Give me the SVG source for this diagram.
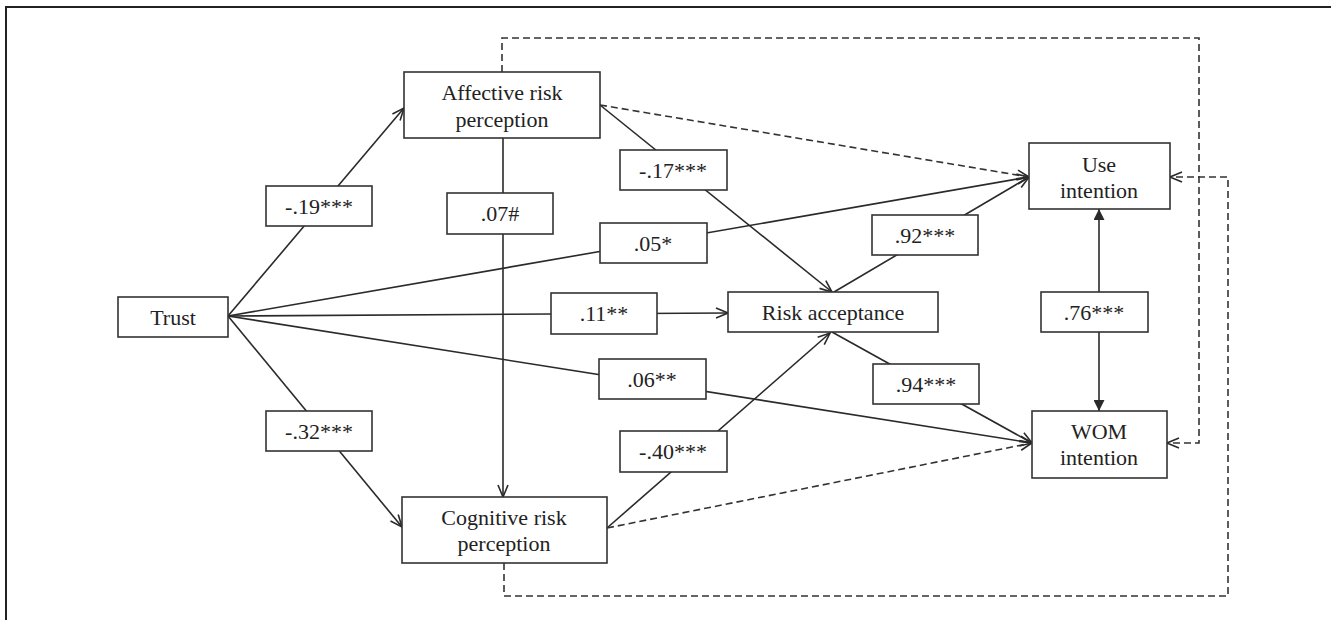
<svg xmlns="http://www.w3.org/2000/svg" width="1331" height="620" viewBox="0 0 1331 620">
<style>
.frame{fill:none;stroke:#222;stroke-width:2}
.box{fill:#fff;stroke:#333;stroke-width:1.6}
.ln{fill:none;stroke:#2a2a2a;stroke-width:1.6}
.ln.arr{marker-end:url(#open)}
.dash{fill:none;stroke:#333;stroke-width:1.6;stroke-dasharray:7 4;marker-end:url(#open)}
.dbl{fill:none;stroke:#2a2a2a;stroke-width:1.6;marker-start:url(#tri);marker-end:url(#tri)}
text{font-family:"Liberation Serif","Times New Roman",serif;font-size:22px;fill:#222;text-anchor:middle}
</style>
<defs>
<marker id="open" markerUnits="userSpaceOnUse" viewBox="0 0 14 12" markerWidth="14" markerHeight="12" refX="13" refY="6" orient="auto">
<path d="M1,1 L13,6 L1,11" fill="none" stroke="#2a2a2a" stroke-width="1.6"/>
</marker>
<marker id="tri" markerUnits="userSpaceOnUse" viewBox="0 0 11 11" markerWidth="11" markerHeight="11" refX="11" refY="5.5" orient="auto-start-reverse">
<path d="M0,0 L11,5.5 L0,11 Z" fill="#2a2a2a"/>
</marker>
</defs>
<rect width="1331" height="620" fill="#fff"/>
<path class="frame" d="M6,620 L6,7 L1331,7"/>
<g id="connectors">
<line class="ln arr" x1="228" y1="316" x2="404" y2="108"/>
<line class="ln arr" x1="228" y1="316" x2="402" y2="527"/>
<line class="ln arr" x1="228" y1="316" x2="1029" y2="177"/>
<line class="ln arr" x1="228" y1="316" x2="728" y2="313"/>
<line class="ln arr" x1="228" y1="316" x2="1032" y2="443"/>
<line class="ln arr" x1="503" y1="138" x2="503" y2="497"/>
<line class="ln arr" x1="600" y1="105" x2="832" y2="292"/>
<line class="ln arr" x1="834" y1="292" x2="1029" y2="177"/>
<line class="ln arr" x1="832" y1="332" x2="1032" y2="443"/>
<line class="ln arr" x1="607" y1="528" x2="830" y2="333"/>
<line class="dash" x1="600" y1="105" x2="1029" y2="177"/>
<line class="dash" x1="607" y1="528" x2="1032" y2="443"/>
<path class="dash" d="M502,72 L502,38 L1199,38 L1199,443 L1167,443"/>
<path class="dash" d="M504,563 L504,596 L1228,596 L1228,177 L1170,177"/>
<line class="dbl" x1="1099" y1="209" x2="1099" y2="411"/>
</g>
<g id="trust"><rect class="box" x="118" y="297" width="110" height="40"/><text x="173" y="325">Trust</text></g>
<g id="affective"><rect class="box" x="404" y="72" width="196" height="66"/><text x="502" y="100">Affective risk</text><text x="502" y="127">perception</text></g>
<g id="cognitive"><rect class="box" x="402" y="497" width="205" height="66"/><text x="504" y="525">Cognitive risk</text><text x="504" y="551">perception</text></g>
<g id="risk-acceptance"><rect class="box" x="728" y="292" width="210" height="40"/><text x="833" y="320">Risk acceptance</text></g>
<g id="use-intention"><rect class="box" x="1029" y="143" width="141" height="66"/><text x="1099" y="172">Use</text><text x="1099" y="198">intention</text></g>
<g id="wom-intention"><rect class="box" x="1032" y="411" width="135" height="67"/><text x="1099" y="439">WOM</text><text x="1099" y="465">intention</text></g>
<g id="label-m19"><rect class="box" x="266" y="186" width="106" height="40"/><text x="319" y="214">-.19***</text></g>
<g id="label-m32"><rect class="box" x="266" y="411" width="106" height="40"/><text x="319" y="439">-.32***</text></g>
<g id="label-07"><rect class="box" x="447" y="193" width="106" height="41"/><text x="500" y="221">.07#</text></g>
<g id="label-m17"><rect class="box" x="620" y="150" width="107" height="40"/><text x="673" y="178">-.17***</text></g>
<g id="label-05"><rect class="box" x="600" y="223" width="107" height="40"/><text x="653" y="251">.05*</text></g>
<g id="label-11"><rect class="box" x="551" y="293" width="106" height="41"/><text x="604" y="321">.11**</text></g>
<g id="label-06"><rect class="box" x="599" y="359" width="107" height="40"/><text x="652" y="387">.06**</text></g>
<g id="label-m40"><rect class="box" x="620" y="431" width="107" height="41"/><text x="673" y="459">-.40***</text></g>
<g id="label-92"><rect class="box" x="872" y="215" width="106" height="40"/><text x="925" y="243">.92***</text></g>
<g id="label-94"><rect class="box" x="873" y="364" width="106" height="40"/><text x="926" y="392">.94***</text></g>
<g id="label-76"><rect class="box" x="1041" y="292" width="107" height="40"/><text x="1094" y="320">.76***</text></g>
</svg>
